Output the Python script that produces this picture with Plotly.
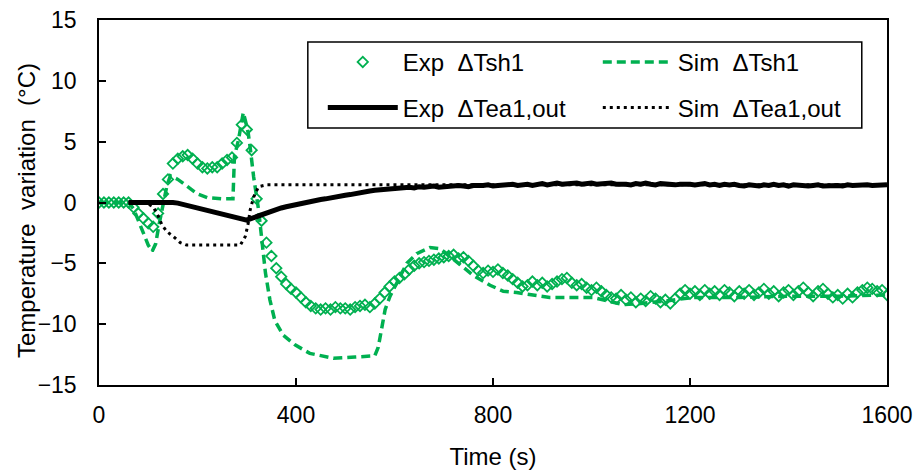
import plotly.graph_objects as go

GREEN = "#00B050"
FONT = "Liberation Sans, Arial, sans-serif"

# Measured superheat variation, sampled every 10 s (0..1600 s)
exp_sh_time = list(range(0, 1601, 10))
exp_sh_value = [
    0, 0, 0, 0, 0, 0, 0, -0.4, -0.9, -1.3,
    -1.7, -2.0, -0.9, 0.7, 1.9, 3.2, 3.6, 3.8, 3.9, 3.6,
    3.2, 2.9, 2.8, 2.9, 2.9, 3.2, 3.5, 3.7, 4.9, 6.4,
    6.0, 4.3, 0.3, -1.5, -3.3, -4.4, -5.4, -6.1, -6.7, -7.1,
    -7.4, -7.8, -8.2, -8.5, -8.7, -8.8, -8.7, -8.8, -8.6, -8.7,
    -8.7, -8.8, -8.6, -8.5, -8.4, -8.6, -8.3, -7.9, -7.4, -6.9,
    -6.5, -6.2, -5.9, -5.5, -5.2, -5.0, -4.9, -4.8, -4.7, -4.6,
    -4.5, -4.4, -4.3, -4.6, -4.5, -4.8, -5.2, -5.6, -5.8, -5.6,
    -5.7, -5.5, -5.8, -6.0, -6.3, -6.6, -6.9, -6.8, -6.5, -6.8,
    -6.6, -6.9, -6.7, -6.5, -6.3, -6.2, -6.6, -6.8, -6.7, -7.0,
    -7.2, -7.0, -7.3, -7.6, -7.8, -7.9, -7.6, -8.0, -7.8, -8.2,
    -7.9, -8.1, -7.7, -7.9, -8.2, -8.0, -8.3, -7.9, -7.5, -7.2,
    -7.5, -7.3, -7.6, -7.2, -7.5, -7.3, -7.6, -7.2, -7.4, -7.7,
    -7.3, -7.5, -7.2, -7.6, -7.4, -7.1, -7.5, -7.3, -7.7, -7.4,
    -7.2, -7.6, -7.3, -7.0, -7.4, -7.7, -7.3, -7.1, -7.5, -7.8,
    -7.6, -7.9, -7.5, -7.8, -7.4, -7.2, -7.0, -7.1, -7.3, -7.2,
    -7.6,
]

# Simulated superheat variation
sim_sh_time = [
    0, 60, 70, 80, 90, 100, 108, 115, 122, 130, 138, 145, 160, 180, 200,
    220, 250, 272, 275, 283, 289, 293, 298, 303, 307, 314, 324, 331, 338,
    347, 357, 374, 398, 428, 476, 520, 560, 567, 574, 581, 591, 605, 625,
    645, 672, 692, 706, 733, 760, 794, 821, 848, 915, 1003, 1040, 1065,
    1100, 1150, 1206, 1300, 1400, 1500, 1600,
]
sim_sh_value = [
    0, 0, -0.5, -1.5, -2.6, -3.5, -4.0, -3.4, -1.8, 0.0, 1.4, 2.2, 1.9, 1.3, 0.7,
    0.4, 0.3, 0.3, 3.8, 5.1, 6.5, 7.4, 6.6, 5.7, 4.5, 2.1, -0.6, -3.1, -5.8,
    -8.0, -9.7, -10.9, -11.7, -12.4, -12.8, -12.7, -12.6, -11.9, -10.2, -8.8, -7.7, -6.6, -5.0,
    -4.2, -3.7, -3.8, -4.2, -5.1, -6.0, -6.8, -7.3, -7.4, -7.8, -7.8, -8.2, -8.4,
    -8.3, -8.1, -7.8, -7.8, -7.7, -7.7, -7.6,
]

# Measured evaporator air outlet temperature variation, every 10 s (60..1600 s)
exp_ea_time = list(range(60, 1601, 10))
exp_ea_value = [
    0.0, 0.0, 0.05, 0.05, 0.1, 0.1, 0.1, 0.1, 0.05, 0.0,
    -0.05, -0.15, -0.3, -0.35, -0.45, -0.5, -0.6, -0.75, -0.9, -1.0,
    -1.05, -1.15, -1.2, -1.3, -1.45, -1.3, -1.15, -1.0, -0.85, -0.65,
    -0.55, -0.45, -0.35, -0.25, -0.15, -0.05, 0.05, 0.1, 0.15, 0.25,
    0.3, 0.4, 0.45, 0.5, 0.6, 0.65, 0.75, 0.8, 0.85, 0.95,
    1.0, 1.05, 1.1, 1.15, 1.2, 1.15, 1.2, 1.25, 1.2, 1.3,
    1.25, 1.3, 1.35, 1.25, 1.3, 1.35, 1.3, 1.4, 1.35, 1.3,
    1.4, 1.35, 1.4, 1.45, 1.35, 1.4, 1.45, 1.4, 1.5, 1.4,
    1.45, 1.5, 1.4, 1.5, 1.55, 1.45, 1.5, 1.6, 1.5, 1.55,
    1.5, 1.6, 1.5, 1.55, 1.6, 1.5, 1.55, 1.5, 1.6, 1.5,
    1.55, 1.5, 1.45, 1.55, 1.5, 1.6, 1.5, 1.45, 1.55, 1.5,
    1.55, 1.45, 1.5, 1.55, 1.5, 1.45, 1.5, 1.55, 1.45, 1.5,
    1.4, 1.5, 1.45, 1.5, 1.4, 1.35, 1.45, 1.4, 1.35, 1.45,
    1.4, 1.5, 1.4, 1.45, 1.35, 1.45, 1.4, 1.45, 1.35, 1.4,
    1.45, 1.35, 1.4, 1.45, 1.4, 1.35, 1.45, 1.4, 1.45, 1.4,
    1.45, 1.4, 1.45, 1.4, 1.45,
]

# Simulated evaporator air outlet temperature variation
sim_ea_time = [60, 95, 110, 120, 128, 138, 151, 165, 178, 230, 287, 297, 303,
               307, 314, 324, 340, 450, 600, 800, 1000, 1200, 1400, 1600]
sim_ea_value = [0, 0, -0.35, -1.1, -1.85, -2.4, -2.8, -3.3, -3.5, -3.5, -3.5, -2.8, -1.7,
                -0.6, 0.45, 1.3, 1.45, 1.45, 1.45, 1.45, 1.45, 1.45, 1.45, 1.45]

x_ticks = [0, 400, 800, 1200, 1600]
y_ticks = [-15, -10, -5, 0, 5, 10, 15]

assert len(exp_sh_time) == len(exp_sh_value)
assert len(sim_sh_time) == len(sim_sh_value)
assert len(exp_ea_time) == len(exp_ea_value)
assert len(sim_ea_time) == len(sim_ea_value)

NB = "\u00a0"

fig = go.Figure()

fig.add_trace(go.Scatter(
    x=sim_sh_time, y=sim_sh_value, mode="lines",
    name=f"Sim{NB}{NB}ΔTsh1", legend="legend", legendrank=2,
    line=dict(color=GREEN, width=3.5, dash="9px,5px"),
))
fig.add_trace(go.Scatter(
    x=exp_sh_time, y=exp_sh_value, mode="markers",
    name=f"Exp{NB}{NB}ΔTsh1", legend="legend", legendrank=1,
    marker=dict(symbol="diamond-open", size=8, color=GREEN,
                line=dict(color=GREEN, width=1.8)),
))
fig.add_trace(go.Scatter(
    x=sim_ea_time, y=sim_ea_value, mode="lines",
    name=f"Sim{NB}{NB}ΔTea1,out", legend="legend2", legendrank=2,
    line=dict(color="black", width=3, dash="3px,4px"),
))
fig.add_trace(go.Scatter(
    x=exp_ea_time, y=exp_ea_value, mode="lines",
    name=f"Exp{NB}{NB}ΔTea1,out", legend="legend2", legendrank=1,
    line=dict(color="black", width=5),
))

axis_common = dict(
    showgrid=False, zeroline=False, showline=True, linecolor="black",
    linewidth=1.5, mirror=True, ticks="inside", ticklen=7, tickwidth=1.5,
    tickcolor="black", tickfont=dict(family=FONT, size=23, color="black"),
    automargin=False,
)

legend_common = dict(
    orientation="h", xanchor="left", yanchor="middle",
    bgcolor="rgba(0,0,0,0)", borderwidth=0,
    font=dict(family=FONT, size=24, color="black"),
    itemwidth=70, entrywidth=190, entrywidthmode="pixels",
    traceorder="normal",
)

fig.update_layout(
    width=916, height=474,
    margin=dict(l=99, r=29, t=20, b=89, autoexpand=False),
    paper_bgcolor="white", plot_bgcolor="white",
    font=dict(family=FONT, color="black"),
    xaxis=dict(range=[0, 1600], tickvals=x_ticks,
               title=dict(text="Time (s)", font=dict(family=FONT, size=24), standoff=21),
               ticklabelstandoff=9, **axis_common),
    yaxis=dict(range=[-15, 15], tickvals=y_ticks,
               ticklabelstandoff=16, **axis_common),
    legend=dict(x=0.284, y=0.884, **legend_common),
    legend2=dict(x=0.284, y=0.759, **legend_common),
    shapes=[dict(type="rect", xref="paper", yref="paper",
                 x0=0.265, x1=0.968, y0=0.704, y1=0.940,
                 line=dict(color="black", width=1.5), fillcolor="rgba(0,0,0,0)",
                 layer="above")],
    annotations=[dict(text=f"Temperature{NB}{NB}variation{NB}{NB}(°C)",
                      xref="paper", yref="paper", x=-0.092, y=0.478,
                      xanchor="center", yanchor="middle", textangle=-90,
                      showarrow=False, font=dict(family=FONT, size=24, color="black"))],
)

fig.write_html("out.html")
